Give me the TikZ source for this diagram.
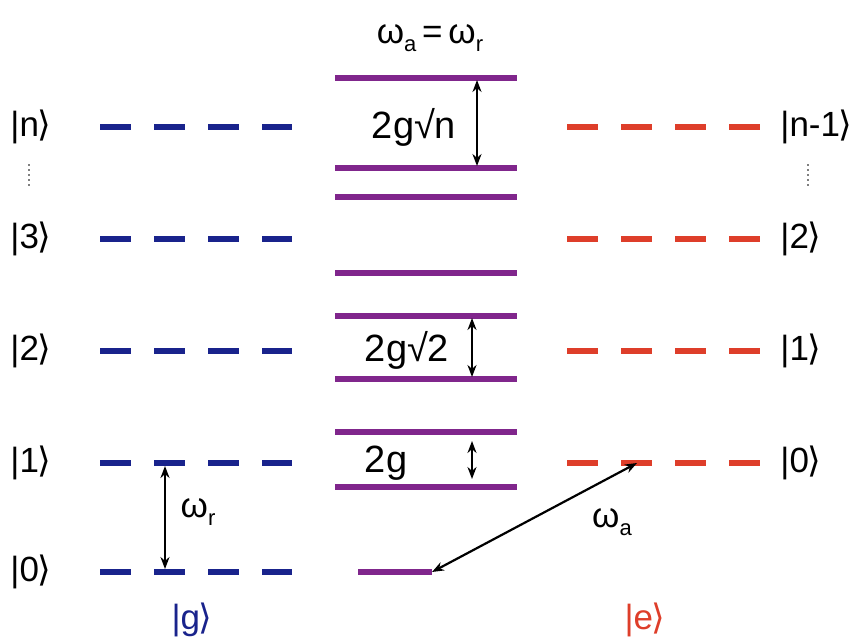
\documentclass[tikz,border=0pt]{standalone}
\usepackage{fontspec}
\setmainfont{Liberation Sans}
\newfontfamily\dvfont{DejaVu Sans}
\usetikzlibrary{arrows.meta}
\definecolor{lvblue}{RGB}{25,35,140}
\definecolor{lvred}{RGB}{222,62,42}
\definecolor{lvpurple}{RGB}{128,38,140}
\newcommand\myket[1]{|#1{\dvfont\kern-0.04em ⟩}}
\newcommand\mysub[1]{\raisebox{-0.45ex}{\fontsize{11}{12}\selectfont #1}}
\begin{document}
\begin{tikzpicture}[x=0.5pt,y=-0.5pt,
  txt/.style={font=\fontsize{17.5}{20}\selectfont, inner sep=0pt},
  big/.style={font=\fontsize{19}{22}\selectfont, inner sep=0pt},
  gdash/.style={lvblue, line width=3pt, dash pattern=on 15.5pt off 11.5pt},
  edash/.style={lvred, line width=3pt, dash pattern=on 15.5pt off 11.5pt},
  plev/.style={lvpurple, line width=3pt},
  dbl/.style={{Stealth[length=6pt,width=4.5pt]}-{Stealth[length=6pt,width=4.5pt]}, line width=1.1pt, black},
  vdots/.style={gray, line width=0.6pt, dash pattern=on 1pt off 1.5pt}]
\useasboundingbox (0,0) rectangle (861,643);
% ground-state ladder (blue)
\foreach \nm/\yy in {gn/127, g3/239, g2/351, g1/463, g0/572}{
  \draw[gdash] (100,\yy) coordinate (\nm-l) -- (292,\yy) coordinate (\nm-r);
}
% excited ladder (red)
\foreach \nm/\yy in {en/127, e2/239, e1/351, e0/463}{
  \draw[edash] (567,\yy) coordinate (\nm-l) -- (761,\yy) coordinate (\nm-r);
}
% dressed levels (purple)
\foreach \nm/\yy in {p1/78, p2/168, p3/197, p4/273, p5/316, p6/379, p7/432, p8/487}{
  \draw[plev] (335,\yy) coordinate (\nm-l) -- (517,\yy) coordinate (\nm-r);
}
\draw[plev] (358,572) coordinate (p0-l) -- (432,572) coordinate (p0-r);
% left labels
\node[txt, anchor=west] (kn) at (10,127) {\myket{n}};
\node[txt, anchor=west] (k3) at (10,239) {\myket{3}};
\node[txt, anchor=west] (k2) at (10,351) {\myket{2}};
\node[txt, anchor=west] (k1) at (10,463) {\myket{1}};
\node[txt, anchor=west] (k0) at (10,572) {\myket{0}};
\coordinate (ldt) at (29,164); \coordinate (ldb) at (29,188);
\draw[vdots] (ldt) -- (ldb);
% right labels
\node[txt, anchor=west] (rn) at (780,127) {\myket{n-1}};
\node[txt, anchor=west] (r2) at (780,239) {\myket{2}};
\node[txt, anchor=west] (r1) at (780,351) {\myket{1}};
\node[txt, anchor=west] (r0) at (780,463) {\myket{0}};
\coordinate (rdt) at (808,164); \coordinate (rdb) at (808,188);
\draw[vdots] (rdt) -- (rdb);
% top label
\node[txt] (top) at (430,38) {ω\mysub{a}\,=\,ω\mysub{r}};
% splittings
\node[big] (sn) at (414,127) {2g√n};
\node[big] (s2) at (407,350) {2g√2};
\node[big] (s1) at (386,463) {2g};
\coordinate (an1) at (477,80); \coordinate (an2) at (477,166);
\draw[dbl] (an1) -- (an2);
\coordinate (a21) at (472,318); \coordinate (a22) at (472,377);
\draw[dbl] (a21) -- (a22);
\coordinate (a11) at (472,441); \coordinate (a12) at (472,479);
\draw[dbl] (a11) -- (a12);
% transitions
\coordinate (wr1) at (165,466); \coordinate (wr2) at (165,569);
\draw[dbl] (wr1) -- (wr2);
\node[txt] (wr) at (198,512) {ω\mysub{r}};
\coordinate (wa1) at (637,463);
\draw[dbl] (wa1) -- (p0-r);
\node[txt] (wa) at (612,522) {ω\mysub{a}};
% state labels
\node[txt, text=lvblue] (gl) at (192,620) {\myket{g}};
\node[txt, text=lvred] (el) at (645,620) {\myket{e}};
\end{tikzpicture}
\end{document}
